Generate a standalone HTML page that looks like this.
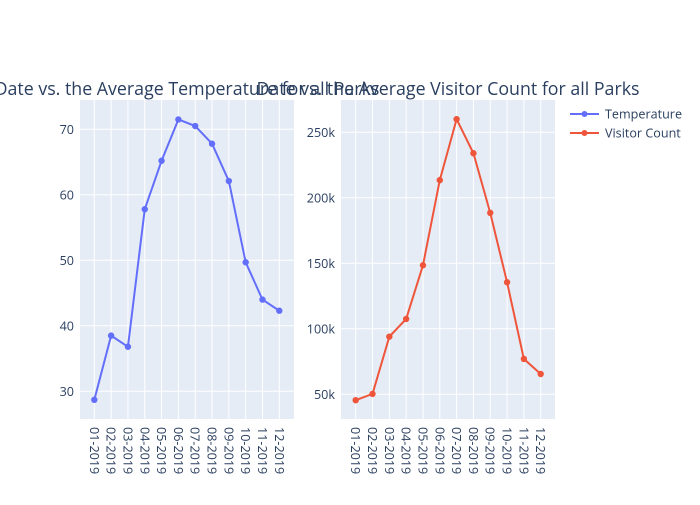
<!DOCTYPE html>
<html><head><meta charset="utf-8"><style>
body{margin:0;background:#fff;}
svg{font-family:"Open Sans","Liberation Sans",sans-serif;}
</style></head><body>
<svg id="chart" width="700" height="500" xmlns="http://www.w3.org/2000/svg"></svg>
<script>
const categories=["01-2019","02-2019","03-2019","04-2019","05-2019","06-2019","07-2019","08-2019","09-2019","10-2019","11-2019","12-2019"];
const temperature=[28.7,38.5,36.8,57.8,65.2,71.5,70.5,67.8,62.1,49.7,44.0,42.3];
const visitors=[45500,50300,94000,107500,148500,213500,260000,234000,188500,135500,77000,65500];
const tempTicks=[30,40,50,60,70];
const visTicks=[50000,100000,150000,200000,250000];
const visTickLabels=["50k","100k","150k","200k","250k"];
const NS="http://www.w3.org/2000/svg";
const svg=document.getElementById('chart');
function mk(tag,attrs,parent){const e=document.createElementNS(NS,tag);for(const k in attrs)e.setAttribute(k,attrs[k]);(parent||svg).appendChild(e);return e;}
function panel(x0,x1,y0,y1,xFirst,xLast,yRef1,yPix1,yRef2,yPix2,ticks,tickLabels,vals,color,title,titleX,name){
  const g=mk('g',{});
  
  
  const bg=mk('rect',{x:x0,y:y0,width:x1-x0,height:y1-y0,fill:'#e5ecf6'},g);
  
  
  const xs=i=>xFirst+(xLast-xFirst)*i/(categories.length-1);
  const ys=v=>yPix1+(v-yRef1)*(yPix2-yPix1)/(yRef2-yRef1);
  categories.forEach((c,i)=>{
    const gl=mk('line',{x1:xs(i),x2:xs(i),y1:y0,y2:y1,stroke:'#fff','stroke-width':1},g);
    
    
    const t=mk('text',{x:0,y:0,transform:`translate(${xs(i)-4.5},${y1+8}) rotate(90)`,fill:'#2a3f5f','font-size':12.6},g);
    t.textContent=c;
    
    
  });
  ticks.forEach((v,i)=>{
    const gl=mk('line',{x1:x0,x2:x1,y1:ys(v),y2:ys(v),stroke:'#fff','stroke-width':1},g);
    
    
    const t=mk('text',{x:x0-6,y:ys(v)+4.5,'text-anchor':'end',fill:'#2a3f5f','font-size':12.6},g);
    t.textContent=tickLabels[i];
    
    
  });
  const pts=vals.map((v,i)=>xs(i)+','+ys(v)).join(' ');
  const pl=mk('polyline',{points:pts,fill:'none',stroke:color,'stroke-width':2},g);
  
  
  vals.forEach((v,i)=>{
    const c=mk('circle',{cx:xs(i),cy:ys(v),r:3.2,fill:color},g);
    
    
  });
  const tt=mk('text',{x:titleX,y:95,'text-anchor':'middle',fill:'#2a3f5f','font-size':17.8},g);
  tt.textContent=title;
  
  
}
panel(80,294,100,419,94.3,279.3,70,129.3,30,391.3,tempTicks,tempTicks.map(String),temperature,'#636efa','Date vs. the Average Temperature for all Parks',187,'temperature');
panel(341,555,100,419,355.7,540.7,250000,132.3,50000,394.3,visTicks,visTickLabels,visitors,'#ef553b','Date vs. the Average Visitor Count for all Parks',448,'visitor');
const leg=[["Temperature","#636efa"],["Visitor Count","#ef553b"]];
leg.forEach((l,i)=>{
  const y=114+i*19;
  const g=mk('g',{});
  
  
  mk('line',{x1:570,x2:599,y1:y,y2:y,stroke:l[1],'stroke-width':2},g);
  mk('circle',{cx:584.5,cy:y,r:3,fill:l[1]},g);
  const t=mk('text',{x:605,y:y+4.5,fill:'#2a3f5f','font-size':12.6},g);
  t.textContent=l[0];
});
</script>
</body></html>
